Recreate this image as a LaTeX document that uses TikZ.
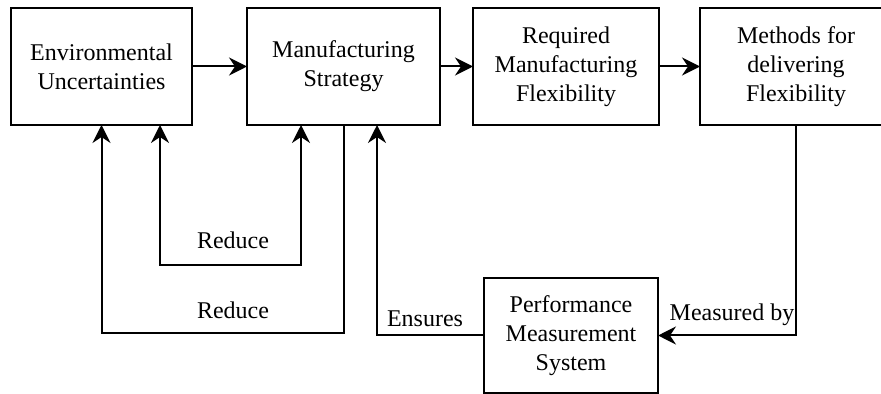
\documentclass[tikz,border=0pt]{standalone}
\usepackage{fontspec}
\setmainfont{Liberation Serif}
\usetikzlibrary{arrows.meta}
\usetikzlibrary{positioning}

\begin{document}
\begin{tikzpicture}[x=0.5pt, y=-0.5pt,
    >={Stealth[length=9pt, width=9pt, inset=3pt]},
    box/.style={draw, line width=1pt, align=center, inner sep=0pt, outer sep=0pt, minimum height=58.5pt,
        font=\fontsize{12pt}{14.4pt}\selectfont},
    link/.style={line width=1pt, ->},
    tag/.style={anchor=base, inner sep=0pt, font=\fontsize{12pt}{14.4pt}\selectfont}]
    \useasboundingbox (0,0) rectangle (881,394);

    % Draw the boxes
    \node[box, minimum width=90.5pt] (env) at (101.5,66.5) {Environmental\\Uncertainties};
    \node[box, minimum width=96.5pt, right=27.5pt of env] (strat) {Manufacturing\\Strategy};
    \node[box, minimum width=93pt, right=16.5pt of strat] (req) {Required\\Manufacturing\\Flexibility};
    \node[box, minimum width=96pt, right=20.5pt of req] (meth) {Methods for\\delivering\\Flexibility};
    \node[box, minimum width=87pt, minimum height=57.5pt] (perf) at (571,335.5) {Performance\\Measurement\\System};

    % Arrows along the top row
    \foreach \a/\b in {env/strat, strat/req, req/meth} {
        \draw[link] (\a) -- (\b);
    }

    % Feedback loops
    \draw[link, <->] ([xshift=29.25pt]env.south) -- ++(0,140) -| ([xshift=-21.25pt]strat.south);
    \draw[link] (strat.south) -- ++(0,208) -| (env.south);
    \draw[link] (perf.west) -| ([xshift=16.75pt]strat.south);
    \draw[link] (meth.south) |- (perf.east);

    % Labels on the connectors
    \node[tag] (reduceIn) at (233,249) {Reduce};
    \node[tag] (reduceOut) at (233,319) {Reduce};
    \node[tag] (ensures) at (425,327) {Ensures};
    \node[tag] (measured) at (732,321) {Measured by};
\end{tikzpicture}
\end{document}
